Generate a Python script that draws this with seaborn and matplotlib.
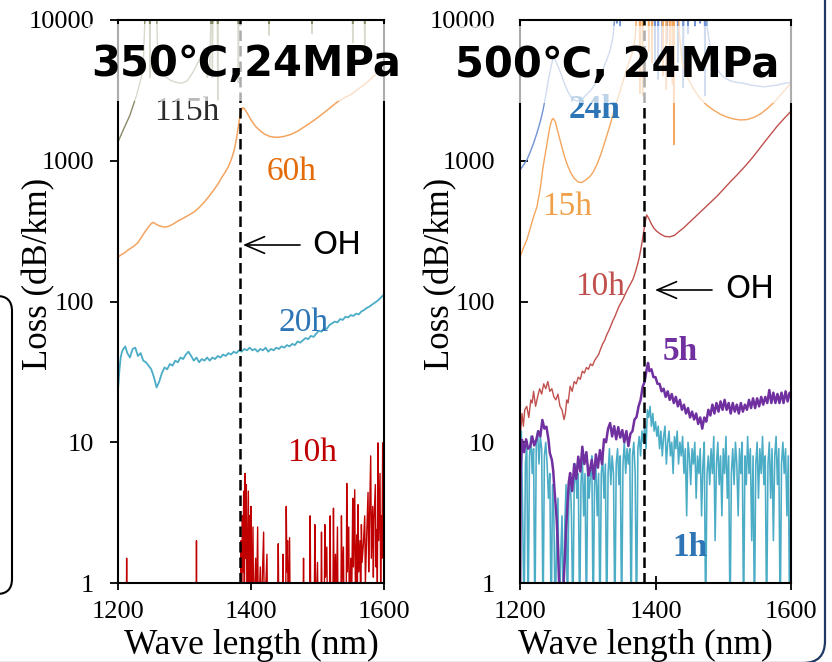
import matplotlib
matplotlib.use("Agg")
import matplotlib.pyplot as plt
import pandas as pd
import seaborn as sns
from matplotlib.patches import FancyBboxPatch, Rectangle
from matplotlib.ticker import NullLocator

# ---------------- data (wavelength nm, loss dB/km) ----------------
# values above 10000 / below 1 are off-scale (clipped by the axes)
yticks = [1, 10, 100, 1000, 10000]
ytick_labels = ["1", "10", "100", "1000", "10000"]
xticks = [1200, 1400, 1600]
xtick_labels = ["1200", "1400", "1600"]
oh_wl = 1383

# ---- 350C, 24MPa ----
s115h = [(1200, 1360), (1208, 1660), (1218, 2110), (1228, 2930), (1236, 4060), (1238, 4800),
         (1241, 12000), (1247, 20000), (1248, 3900), (1249, 20000), (1258, 12000), (1260, 4800),
         (1266, 4200), (1273, 3900), (1280, 3700), (1288, 3600), (1296, 3550), (1304, 3700),
         (1313, 4270), (1322, 5200), (1330, 6300), (1334, 3900), (1338, 4500), (1340, 12000),
         (1341, 20000), (1342, 3900), (1343, 20000), (1349, 20000), (1350, 2700), (1351, 20000),
         (1380, 20000), (1381, 3600), (1382, 20000), (1426, 20000), (1427, 7800), (1428, 20000),
         (1491, 20000), (1492, 8000), (1493, 20000), (1552, 20000), (1553, 6900), (1554, 20000),
         (1570, 20000), (1571, 6600), (1572, 20000), (1600, 20000)]

s60h = [(1200, 207), (1205, 215), (1210, 222), (1215, 232), (1220, 240), (1225, 250), (1230, 262),
        (1235, 285), (1240, 310), (1245, 335), (1250, 358), (1253, 365), (1257, 355), (1262, 345),
        (1267, 340), (1272, 338), (1278, 345), (1285, 360), (1292, 378), (1300, 395), (1308, 415),
        (1315, 435), (1322, 465), (1330, 510), (1337, 560), (1344, 620), (1350, 680), (1356, 760),
        (1362, 840), (1367, 930), (1371, 1040), (1375, 1200), (1378, 1420), (1381, 1750),
        (1384, 2150), (1387, 2380), (1390, 2350), (1395, 2150), (1400, 1950), (1407, 1750),
        (1414, 1630), (1421, 1540), (1428, 1490), (1435, 1470), (1442, 1470), (1450, 1490),
        (1460, 1540), (1470, 1620), (1480, 1740), (1490, 1870), (1500, 2020), (1510, 2200),
        (1520, 2400), (1530, 2620), (1540, 2800), (1550, 2950), (1560, 3200), (1570, 3460),
        (1580, 3800), (1590, 4250), (1600, 4800)]

s20h = [(1200, 23.5), (1202, 32), (1204, 40), (1206, 44), (1208, 46), (1211, 48), (1214, 43),
        (1218, 40), (1222, 46), (1226, 47), (1230, 41), (1234, 43), (1238, 38), (1242, 37),
        (1246, 35), (1250, 33), (1254, 29), (1258, 24.5), (1262, 27), (1266, 31), (1270, 34),
        (1274, 33), (1278, 36), (1282, 35), (1286, 38), (1290, 37), (1294, 40), (1298, 39),
        (1302, 42), (1306, 44), (1310, 41), (1314, 38), (1318, 40), (1322, 37), (1326, 39),
        (1330, 38), (1334, 40), (1338, 38), (1342, 40), (1346, 39), (1350, 41), (1354, 40),
        (1358, 42), (1362, 41), (1366, 43), (1370, 42), (1374, 44), (1378, 43), (1382, 45),
        (1386, 44), (1390, 46), (1394, 45), (1398, 47), (1402, 45), (1406, 46), (1410, 44),
        (1414, 46), (1418, 45), (1422, 47), (1426, 44), (1430, 46), (1434, 45), (1438, 47),
        (1442, 46), (1446, 48), (1450, 47), (1454, 49), (1458, 48), (1462, 50), (1466, 49),
        (1470, 52), (1474, 51), (1478, 53), (1482, 55), (1486, 54), (1490, 57), (1494, 56),
        (1498, 59), (1502, 62), (1506, 61), (1510, 65), (1514, 64), (1518, 68), (1522, 70),
        (1526, 72), (1530, 71), (1534, 75), (1538, 74), (1542, 78), (1546, 77), (1550, 80),
        (1554, 79), (1558, 82), (1562, 81), (1566, 85), (1570, 87), (1574, 90), (1578, 92),
        (1582, 95), (1586, 98), (1590, 101), (1594, 105), (1598, 110), (1600, 112)]

s10h_a = [(1200, 0.5), (1212.5, 0.5), (1213, 1.5), (1213.5, 0.5), (1317.5, 0.5), (1318, 2.0),
          (1318.5, 0.5), (1384, 0.5), (1385, 2.0), (1386, 0.5), (1387, 3.0), (1388, 1.2),
          (1389, 4.5), (1390, 0.5), (1391, 6.0), (1392, 1.5), (1393, 5.0), (1394, 0.5),
          (1396, 4.5), (1397, 1.0), (1398, 3.0), (1399, 0.5), (1400, 3.5), (1401, 0.5),
          (1403, 2.5), (1404, 0.5), (1407, 1.5), (1408, 0.5), (1410, 2.5), (1411, 0.5),
          (1414, 1.3), (1415, 0.5), (1419, 2.3), (1420, 0.5), (1424, 1.6), (1425, 0.5),
          (1440, 0.5), (1441, 1.9), (1442, 0.5), (1447, 0.5), (1448, 1.6), (1449, 0.5),
          (1452, 0.5), (1453, 3.5), (1454, 1.2), (1455, 2.0), (1456, 0.5), (1458, 2.1),
          (1459, 0.5), (1478, 0.5), (1479, 1.5), (1480, 0.5), (1488, 0.5), (1489, 3.0),
          (1490, 0.5), (1495, 0.5), (1496, 2.6), (1497, 0.5), (1500, 1.4), (1501, 0.5),
          (1505, 0.5), (1506, 2.3), (1507, 0.5), (1510, 0.5), (1511, 2.6), (1512, 1.1),
          (1514, 1.8), (1515, 0.5), (1518, 0.5), (1519, 3.0), (1520, 0.5), (1523, 0.5),
          (1524, 3.4), (1525, 0.8), (1527, 1.6), (1528, 0.5), (1530, 2.5), (1531, 0.5),
          (1535, 0.5), (1536, 3.0), (1537, 1.0), (1539, 1.8), (1540, 0.5), (1543, 0.5),
          (1544, 5.1), (1545, 1.2), (1547, 2.5), (1548, 0.5), (1550, 1.5), (1551, 0.5),
          (1553, 4.0), (1554, 1.3), (1556, 4.6), (1557, 0.8), (1559, 2.2), (1560, 1.0),
          (1561, 3.6), (1562, 1.2), (1564, 2.0), (1565, 0.5), (1566, 2.6), (1567, 1.4),
          (1569, 1.9), (1571, 3.0), (1572, 1.0), (1574, 2.2), (1576, 4.4), (1577, 1.2),
          (1578, 2.5), (1580, 8.0), (1581, 1.5), (1583, 3.5), (1584, 1.1), (1585, 2.8),
          (1587, 5.0), (1588, 1.3), (1589, 2.4), (1590, 1.0), (1591, 9.9), (1592, 2.0),
          (1594, 6.0), (1595, 0.9), (1596, 3.0), (1597, 1.5), (1598, 9.9), (1599, 2.5),
          (1600, 8.0)]

# ---- 500C, 24MPa ----
s24h = [(1200, 860), (1205, 930), (1210, 1010), (1215, 1150), (1220, 1330), (1225, 1575),
        (1230, 1900), (1234, 2290), (1238, 2900), (1242, 3800), (1246, 4700), (1249, 5370),
        (1252, 5200), (1256, 4700), (1260, 4200), (1265, 3600), (1270, 3150), (1275, 2850),
        (1280, 2700), (1286, 2650), (1292, 2750), (1298, 2950), (1304, 3150), (1310, 3450),
        (1316, 3850), (1322, 4400), (1328, 5200), (1333, 6100), (1337, 7500), (1340, 10500),
        (1342, 20000), (1343, 9500), (1344, 20000), (1347, 20000), (1348, 9000), (1349, 20000),
        (1398, 20000), (1399, 4800), (1400, 20000), (1403, 20000), (1404, 3800), (1405, 20000),
        (1409, 20000), (1410, 5500), (1411, 20000), (1416, 20000), (1417, 7000), (1418, 20000),
        (1425, 20000), (1426, 4500), (1427, 20000), (1432, 20000), (1433, 5000), (1434, 20000),
        (1440, 20000), (1441, 3300), (1442, 20000), (1447, 20000), (1448, 8000), (1449, 20000),
        (1457, 20000), (1458, 9000), (1459, 20000), (1465, 20000), (1466, 9500), (1467, 20000),
        (1472, 20000), (1473, 2900), (1474, 20000), (1476, 9000), (1480, 6800), (1485, 5300),
        (1490, 4600), (1495, 4200), (1500, 3950), (1510, 3700), (1520, 3600), (1530, 3550),
        (1540, 3450), (1550, 3400), (1560, 3350), (1570, 3400), (1580, 3450), (1590, 3550),
        (1600, 3600)]

s15h = [(1200, 207), (1205, 240), (1210, 273), (1215, 330), (1220, 400), (1225, 470), (1230, 640),
        (1234, 903), (1239, 1250), (1244, 1740), (1247, 1950), (1249, 2000), (1252, 1900),
        (1256, 1600), (1260, 1350), (1265, 1100), (1270, 930), (1275, 820), (1280, 750),
        (1286, 705), (1291, 700), (1297, 730), (1303, 770), (1308, 830), (1314, 950),
        (1319, 1100), (1323, 1260), (1328, 1500), (1333, 1800), (1338, 2180), (1343, 2650),
        (1348, 3180), (1353, 3800), (1357, 4420), (1362, 5200), (1367, 6100), (1370, 7500),
        (1372, 10500), (1374, 20000), (1376, 20000), (1377, 3000), (1378, 20000), (1380, 20000),
        (1381, 2900), (1382, 20000), (1389, 20000), (1390, 6000), (1391, 20000), (1394, 20000),
        (1395, 5000), (1396, 20000), (1410, 20000), (1411, 4000), (1412, 20000), (1415, 20000),
        (1416, 3200), (1417, 20000), (1420, 20000), (1421, 5000), (1422, 20000), (1424, 20000),
        (1425, 3500), (1426, 20000), (1427, 1300), (1428, 20000), (1432, 20000), (1435, 8000),
        (1440, 4800), (1446, 4000), (1455, 3300), (1465, 2800), (1475, 2500), (1485, 2300),
        (1495, 2150), (1505, 2050), (1515, 1980), (1525, 1950), (1535, 1960), (1545, 2030),
        (1555, 2150), (1565, 2350), (1575, 2600), (1585, 2950), (1595, 3350), (1600, 3550)]

s10h_b = [(1200, 7), (1201, 12), (1203, 16), (1205, 13), (1207, 17), (1210, 18), (1213, 15),
          (1216, 20), (1218, 19), (1220, 23), (1223, 18), (1226, 21), (1229, 24), (1232, 22),
          (1235, 26), (1238, 24), (1241, 27), (1244, 23), (1247, 24), (1250, 21), (1253, 20),
          (1256, 22), (1259, 18), (1262, 17), (1265, 14.5), (1267, 16), (1269, 20), (1271, 19),
          (1274, 25), (1277, 23), (1280, 27), (1283, 26), (1286, 29), (1289, 28), (1292, 32),
          (1295, 31), (1298, 34), (1301, 33), (1304, 36), (1307, 35), (1310, 38), (1313, 40),
          (1316, 42), (1319, 46), (1322, 50), (1325, 53), (1328, 58), (1331, 62), (1334, 67),
          (1337, 73), (1340, 78), (1343, 85), (1346, 92), (1349, 98), (1352, 104), (1355, 112),
          (1358, 120), (1361, 128), (1364, 136), (1367, 145), (1370, 160), (1373, 180),
          (1376, 205), (1379, 245), (1382, 300), (1385, 370), (1387, 412), (1390, 390),
          (1394, 355), (1398, 330), (1402, 315), (1408, 300), (1414, 290), (1421, 288),
          (1428, 295), (1435, 315), (1442, 335), (1450, 365), (1460, 405), (1470, 450),
          (1480, 500), (1490, 555), (1500, 625), (1510, 705), (1520, 790), (1530, 890),
          (1540, 1010), (1550, 1160), (1560, 1340), (1570, 1540), (1580, 1770), (1590, 2000),
          (1600, 2250)]

s5h = [(1200, 0.5), (1201, 6.3), (1203, 10.4), (1206, 8.5), (1209, 10.5), (1212, 9.0),
       (1215, 9.3), (1218, 11), (1221, 9.5), (1224, 10.4), (1227, 12), (1230, 11), (1233, 14.4),
       (1236, 12.5), (1239, 12.9), (1242, 10.5), (1244, 8.4), (1247, 7.5), (1249, 6.3),
       (1251, 4.5), (1254, 2.9), (1256, 1.8), (1258, 0.9), (1260, 0.5), (1263, 0.7), (1266, 1.5),
       (1268, 2.4), (1270, 3.5), (1272, 5.2), (1274, 6.05), (1277, 4.5), (1280, 7.0), (1283, 5.5),
       (1286, 7.9), (1289, 6.2), (1292, 9.3), (1295, 7.0), (1298, 8.5), (1301, 5.8), (1303, 6.3),
       (1306, 7.5), (1309, 5.5), (1312, 8.2), (1315, 6.6), (1318, 8.8), (1321, 7.0), (1324, 10.5),
       (1327, 10.0), (1330, 12.5), (1333, 13.7), (1336, 11), (1339, 13), (1342, 10.5),
       (1345, 12.8), (1348, 10.8), (1351, 12.2), (1354, 10), (1357, 12), (1360, 9.4),
       (1363, 11.5), (1366, 12), (1369, 14.5), (1372, 15.1), (1375, 18), (1378, 20),
       (1381, 24.7), (1384, 27), (1387, 33), (1389, 36.6), (1391, 32), (1394, 33), (1397, 29),
       (1400, 29), (1403, 26), (1406, 26), (1409, 23), (1412, 24), (1415, 21), (1418, 23),
       (1421, 20), (1424, 22), (1427, 19), (1430, 21), (1433, 18), (1436, 20), (1439, 17),
       (1442, 18.5), (1445, 16), (1448, 17.5), (1451, 15), (1454, 16.5), (1457, 14.5), (1460, 16),
       (1463, 13.5), (1466, 15), (1469, 12.5), (1472, 15), (1475, 14), (1478, 17),
       (1481, 15.5), (1484, 18.5), (1487, 16), (1490, 19), (1493, 16.5), (1496, 19.5), (1499, 17),
       (1502, 20), (1505, 17), (1508, 19), (1511, 16), (1514, 19), (1517, 16.5), (1520, 18.5),
       (1523, 16), (1526, 19), (1529, 16.5), (1532, 18.5), (1535, 17), (1538, 20), (1541, 17.5),
       (1544, 20.5), (1547, 17.5), (1550, 20.5), (1553, 18), (1556, 21), (1559, 18.5), (1562, 21),
       (1565, 19), (1568, 23.5), (1571, 19), (1574, 22.5), (1577, 19), (1580, 22), (1583, 19),
       (1586, 22.5), (1589, 19), (1592, 23), (1595, 19.5), (1598, 22.5), (1600, 21)]

wl_1h = list(range(1200, 1601, 2))
v_1h = [9, 12, 3, 0.5, 7, 10, 0.5, 8, 11, 6, 9, 0.5, 10, 12, 7, 11, 9, 0.5, 8, 10,
        7, 4, 6, 0.5, 5, 3, 0.5, 2, 4, 0.5, 1.5, 3, 0.5, 2.5, 5, 0.5, 4, 6, 3, 0.5,
        5, 7, 4, 6, 0.5, 5, 8, 3, 6, 0.5, 7, 4, 6, 8, 0.5, 5, 7, 3, 6, 0.5,
        6, 8, 4, 7, 0.5, 6, 9, 5, 8, 6, 0.5, 7, 9, 5, 8, 0.5, 7, 10, 6, 9,
        7, 9, 0.5, 8, 10, 6, 0.5, 9, 11, 8, 12, 10, 13, 9, 17, 15, 18, 13, 16, 12,
        14, 11, 13, 9, 12, 8, 11, 13, 7, 10, 12, 8, 10, 6, 11, 9, 12, 7, 10, 8,
        11, 6, 9, 3, 10, 8, 5, 9, 7, 10, 4, 8, 6, 9, 3, 7, 10, 0.5, 6, 8,
        5, 9, 6, 11, 2, 7, 10, 5, 8, 3, 9, 6, 11, 4, 8, 0.5, 6, 9, 5, 10,
        7, 3, 9, 6, 10, 0.5, 8, 5, 11, 6, 9, 2, 8, 0.5, 7, 10, 4, 9, 6, 11,
        5, 8, 0.5, 7, 10, 4, 9, 2, 8, 11, 5, 9, 0.5, 7, 10, 6, 9, 3, 8, 0.5,
        6]

# ---------------- figure ----------------
sns.set_style("ticks")
plt.rcParams["font.family"] = ["Liberation Serif", "DejaVu Serif"]
plt.rcParams["axes.unicode_minus"] = False

W, H = 832, 662
fig = plt.figure(figsize=(W / 100, H / 100), dpi=100)
fig.patch.set_facecolor("white")


def fx(px):
    return px / W


def fy(py):
    return 1 - py / H


axL = fig.add_axes([fx(118), fy(583), (384 - 118) / W, (583 - 20) / H])
axR = fig.add_axes([fx(520), fy(583), (791 - 520) / W, (583 - 20) / H])


def draw(ax, pairs, color, lw):
    d = pd.DataFrame(pairs, columns=["wl", "loss"])
    sns.lineplot(data=d, x="wl", y="loss", ax=ax, color=color, lw=lw,
                 estimator=None, sort=False, legend=False)


for ax in (axL, axR):
    ax.set_yscale("log")

draw(axL, s115h, "#8A8A66", 1.0)
draw(axL, s60h, "#F4A460", 1.1)
draw(axL, s20h, "#4BACC6", 1.3)
draw(axL, s10h_a, "#C00000", 1.0)

draw(axR, s24h, "#6F93D3", 1.0)
draw(axR, s15h, "#F5A55C", 1.0)
draw(axR, s10h_b, "#C0504D", 1.0)
draw(axR, list(zip(wl_1h, v_1h)), "#4BACC6", 1.15)
draw(axR, s5h, "#7030A0", 1.8)

for ax, ydir, ypad in ((axL, "out", 11.5), (axR, "in", 18)):
    ax.set_xlim(1200, 1600)
    ax.set_ylim(1, 10000)
    ax.set_xticks(xticks, labels=xtick_labels)
    ax.set_yticks(yticks, labels=ytick_labels)
    ax.yaxis.set_minor_locator(NullLocator())
    ax.xaxis.set_minor_locator(NullLocator())
    ax.tick_params(axis="x", direction="inout", length=10, width=1.3,
                   labelsize=19, pad=8, colors="black")
    ax.tick_params(axis="y", direction=ydir, length=5.8, width=1.3,
                   labelsize=19, pad=ypad, colors="black")
    for s in ax.spines.values():
        s.set_visible(True)
        s.set_linewidth(1.5)
        s.set_color("black")
    ax.axvline(oh_wl, color="black", lw=1.8, ls=(0, (4.2, 2.0)), zorder=6)
    ax.set_xlabel("Wave length (nm)", fontsize=25.5, color="black")
    ax.set_ylabel("Loss (dB/km)", fontsize=25, color="black")
    ax.yaxis.label.set_verticalalignment("center")
    ax.xaxis.label.set_verticalalignment("center")
    ax.set_facecolor("white")

axL.yaxis.set_label_coords((39 - 118) / 266, (583 - 274) / 563)
axR.yaxis.set_label_coords((441 - 520) / 271, (583 - 274) / 563)
axL.xaxis.set_label_coords(0.5, (583 - 645) / 563)
axR.xaxis.set_label_coords((645 - 520) / 271, (583 - 645) / 563)


def to_data(ax, x0, x1, px, py):
    wl = 1200 + (px - x0) * 400 / (x1 - x0)
    val = 10 ** ((583 - py) / 140.75)
    return wl, val


def label(ax, x0, x1, px, py, s, color, bold=False, size=24):
    ax.text(*to_data(ax, x0, x1, px, py), s, color=color, fontsize=size,
            ha="center", va="center", fontweight="bold" if bold else "normal", zorder=7)


label(axL, 118, 384, 187, 112, "115h", "#2B2B2B")
label(axL, 118, 384, 292, 172, "60h", "#E46C0A")
label(axL, 118, 384, 303, 323, "20h", "#2E75B6")
label(axL, 118, 384, 312, 453, "10h", "#C00000")

label(axR, 520, 791, 595, 110, "24h", "#2E75B6", bold=True)
label(axR, 520, 791, 567, 207, "15h", "#F0A048")
label(axR, 520, 791, 600, 287, "10h", "#C0504D")
label(axR, 520, 791, 680, 352, "5h", "#7030A0", bold=True)
label(axR, 520, 791, 690, 548, "1h", "#2E75B6", bold=True)

# OH arrows
for ax, x0, x1, head, tail, tx, py in ((axL, 118, 384, 243, 300, 337, 245),
                                       (axR, 520, 791, 655, 712, 750, 290)):
    ax.annotate("", xy=to_data(ax, x0, x1, head, py), xytext=to_data(ax, x0, x1, tail, py),
                arrowprops=dict(arrowstyle="->,head_length=0.7,head_width=0.3",
                                mutation_scale=20, lw=1.2, color="black",
                                shrinkA=0, shrinkB=0), zorder=7)
    ax.text(*to_data(ax, x0, x1, tx, py), "OH", family=["DejaVu Sans"], fontsize=23,
            ha="center", va="center", color="black", zorder=7)

# semi-transparent title boxes and titles
fig.patches.append(Rectangle((fx(88), fy(101)), (402 - 88) / W, (101 - 24) / H,
                             transform=fig.transFigure, facecolor="white", alpha=0.68,
                             edgecolor="none", zorder=1))
fig.patches.append(Rectangle((fx(452), fy(103)), (796 - 452) / W, (103 - 26) / H,
                             transform=fig.transFigure, facecolor="white", alpha=0.68,
                             edgecolor="none", zorder=1))
fig.text(fx(246), fy(76), "350℃,24MPa", ha="center", va="baseline", fontsize=30,
         fontweight="bold", family=["DejaVu Sans"], color="black", zorder=3)
fig.text(fx(617), fy(77), "500℃, 24MPa", ha="center", va="baseline", fontsize=30,
         fontweight="bold", family=["DejaVu Sans"], color="black", zorder=3)

# slide frames
fig.patches.append(FancyBboxPatch((-1.0, (H - 663) / 100), 8.25 + 1.0, (663 + 100) / 100,
                                  boxstyle="round,pad=0,rounding_size=0.22",
                                  transform=fig.dpi_scale_trans, facecolor="none",
                                  edgecolor="#1F3864", lw=1.6, zorder=4))
fig.patches.append(FancyBboxPatch((-0.6, (H - 594) / 100), 0.72, 2.98,
                                  boxstyle="round,pad=0,rounding_size=0.15",
                                  transform=fig.dpi_scale_trans, facecolor="none",
                                  edgecolor="black", lw=1.5, zorder=4))

fig.savefig("out.png", dpi=100, facecolor="white")
